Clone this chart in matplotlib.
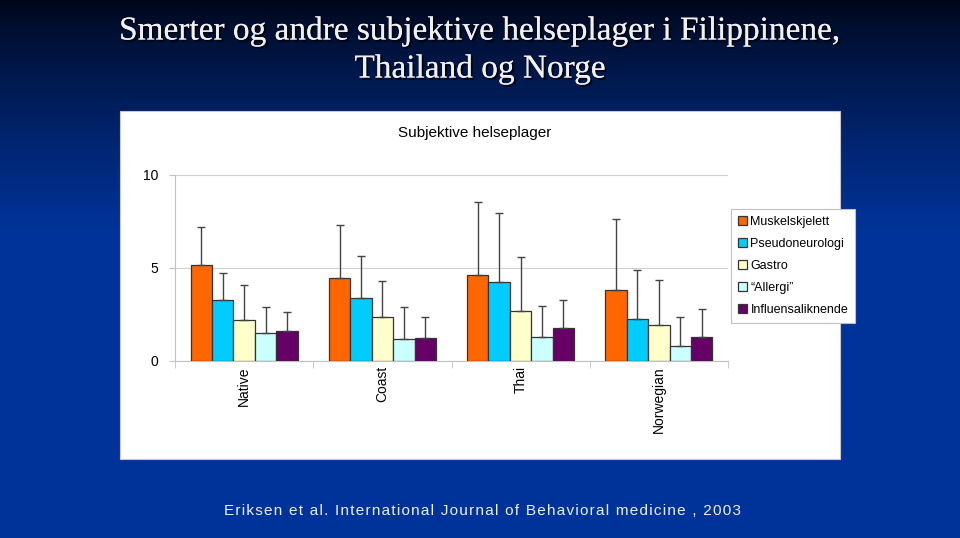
import numpy as np
import matplotlib.pyplot as plt
from matplotlib.patches import Rectangle
import matplotlib.patheffects as pe

categories = ["Native", "Coast", "Thai", "Norwegian"]
series = ["Muskelskjelett", "Pseudoneurologi", "Gastro", "\u201cAllergi\u201d", "Influensaliknende"]
colors = ["#ff6600", "#00ccff", "#ffffcc", "#ccffff", "#660066"]
values = {
    "Muskelskjelett":    [5.13, 4.45, 4.63, 3.78],
    "Pseudoneurologi":   [3.26, 3.39, 4.23, 2.26],
    "Gastro":            [2.20, 2.33, 2.66, 1.92],
    "\u201cAllergi\u201d": [1.47, 1.18, 1.26, 0.79],
    "Influensaliknende": [1.59, 1.23, 1.76, 1.26],
}
err_top = {
    "Muskelskjelett":    [7.20, 7.32, 8.57, 7.65],
    "Pseudoneurologi":   [4.72, 5.63, 7.94, 4.90],
    "Gastro":            [4.05, 4.27, 5.57, 4.35],
    "\u201cAllergi\u201d": [2.87, 2.87, 2.93, 2.37],
    "Influensaliknende": [2.60, 2.36, 3.27, 2.77],
}

W, H = 960, 538
fig = plt.figure(figsize=(W / 100, H / 100), dpi=100)

# background gradient
bg = fig.add_axes([0, 0, 1, 1])
bg.set_axis_off()
ypix = np.linspace(0, H, 300)[:, None]
t = np.clip(ypix / 230.0, 0, 1) ** 0.8
t = np.repeat(t, 10, axis=1)
top = np.array([0x00, 0x06, 0x18]) / 255
bot = np.array([0x00, 0x33, 0x99]) / 255
img = top[None, None, :] * (1 - t[..., None]) + bot[None, None, :] * t[..., None]
bg.imshow(img, aspect="auto", extent=[0, 1, 0, 1], origin="upper")
bg.set_xlim(0, 1); bg.set_ylim(0, 1)

# white chart panel
bg.add_patch(Rectangle((120 / W, 1 - 459 / H), (840 - 120) / W, (459 - 111) / H,
                       facecolor="white", edgecolor="#c8c8c8", lw=0.8, zorder=2))

# titles
shadow = [pe.withSimplePatchShadow(offset=(1.5, -1.5), shadow_rgbFace="black", alpha=0.8), pe.Normal()]
fig.text(0.5, 1 - 31 / H, "Smerter og andre subjektive helseplager i Filippinene,",
         ha="center", va="center", color="#f0f0f5", fontsize=24, family="Liberation Serif",
         path_effects=shadow)
fig.text(0.5, 1 - 69 / H, "Thailand og Norge", ha="center", va="center", color="#f0f0f5",
         fontsize=24, family="Liberation Serif", path_effects=shadow)
fig.text(475 / W, 1 - 133 / H, "Subjektive helseplager", ha="center", va="center",
         fontsize=11, color="black", family="Liberation Sans")
footer = "Eriksen et al. International Journal of Behavioral medicine , 2003"
fig.text(482 / W, 1 - 511 / H, "\u200a".join(footer),
         ha="center", va="center", fontsize=11.0, color="#eef0f8", family="Liberation Sans")

# plot area
x0, x1 = 175, 728
y0, y1 = 360.5, 175
ax = fig.add_axes([x0 / W, 1 - y0 / H, (x1 - x0) / W, (y0 - y1) / H])
ax.set_facecolor("none")
n = len(series)
bw = 0.155
x = np.arange(len(categories))
for i, s in enumerate(series):
    pos = x + (i - (n - 1) / 2) * bw
    vals = np.array(values[s])
    up = np.array(err_top[s]) - vals
    ax.bar(pos, vals, width=bw, color=colors[i], edgecolor="#333333", lw=0.9, label=s, zorder=3)
    ax.errorbar(pos, vals, yerr=[np.zeros_like(up), up], fmt="none", ecolor="#444444",
                elinewidth=1.0, capsize=3, capthick=1.0, zorder=4)
ax.set_xlim(-0.5, len(categories) - 0.5)
ax.set_ylim(0, 10)
ax.set_yticks([0, 5, 10])
ax.set_yticklabels(["0", "5", "10"], fontsize=10, family="Liberation Sans")
ax.yaxis.grid(True, color="#d0d0d0", lw=0.8)
ax.set_axisbelow(True)
for sp in ["top", "right"]:
    ax.spines[sp].set_visible(False)
ax.spines["left"].set_color("#c0c0c0")
ax.spines["bottom"].set_color("#c0c0c0")
ax.tick_params(axis="y", length=4, color="#c0c0c0", pad=8)
ax.set_xticks(np.arange(len(categories) + 1) - 0.5, minor=True)
ax.tick_params(axis="x", which="minor", length=5, color="#c0c0c0", direction="out")
ax.set_xticks(x)
ax.set_xticklabels(categories, rotation=90, fontsize=10, family="Liberation Sans", va="top")
ax.tick_params(axis="x", which="major", length=0, pad=4)

handles, labels = ax.get_legend_handles_labels()
leg = fig.legend(handles, labels, loc="upper left", bbox_to_anchor=(731 / W, 1 - 209 / H),
                 frameon=True, fancybox=False, edgecolor="#c0c0c0", framealpha=1,
                 facecolor="white", prop={"family": "Liberation Sans", "size": 9.0},
                 handlelength=0.75, handleheight=0.75, handletextpad=0.25, labelspacing=0.8,
                 borderpad=0.55, borderaxespad=0)
leg.get_frame().set_linewidth(0.8)

fig.savefig("out.png", dpi=100)
